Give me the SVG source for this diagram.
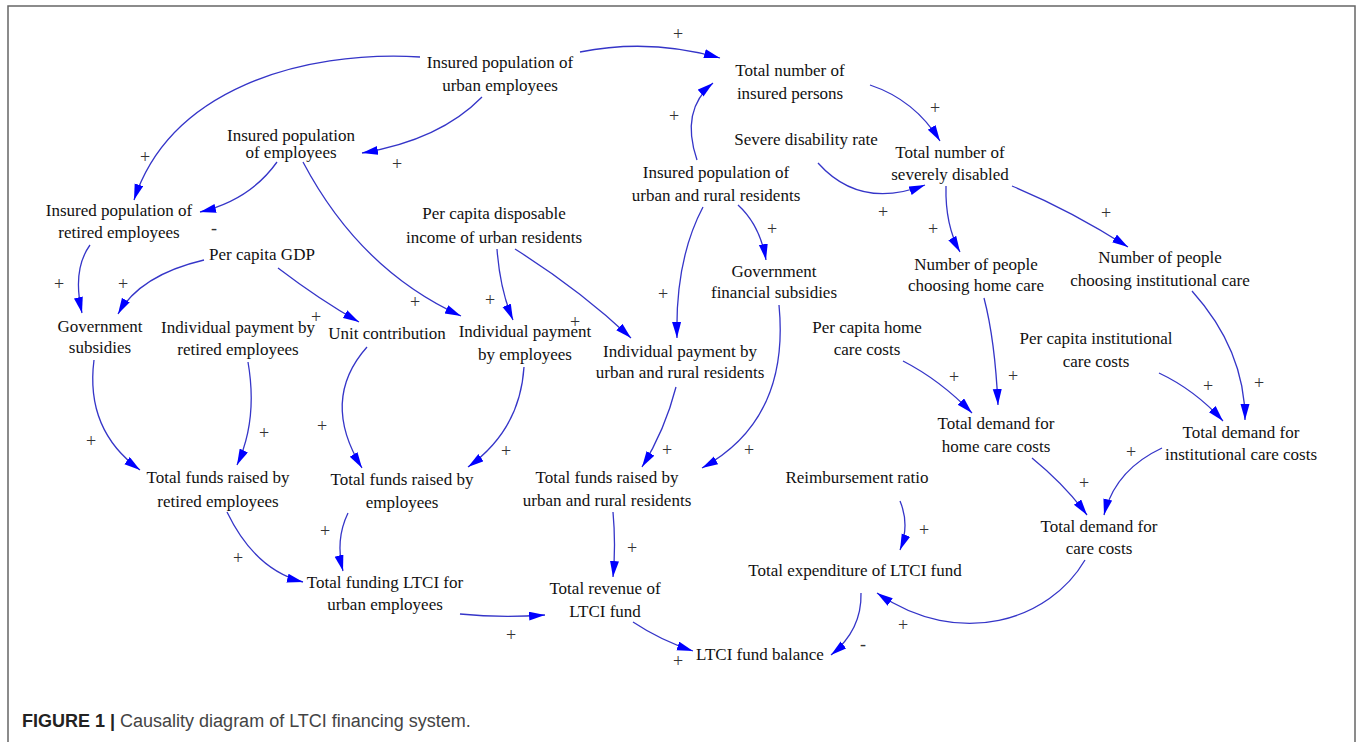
<svg xmlns="http://www.w3.org/2000/svg" width="1360" height="742" viewBox="0 0 1360 742">
<defs>
<marker id="ah" markerUnits="userSpaceOnUse" markerWidth="18" markerHeight="10" refX="16" refY="4.5" orient="auto">
<path d="M0,0 L16,4.5 L0,9 z" fill="#0000ff"/>
</marker>
</defs>
<style>
.n text{font-family:"Liberation Serif","Times New Roman",serif;font-size:17px;fill:#111;text-anchor:middle}
.c path{fill:none;stroke:#3535c8;stroke-width:1.3;marker-end:url(#ah)}
.p{font-family:"Liberation Serif",serif;font-size:18px;fill:#333;text-anchor:middle}
.cap{font-family:"Liberation Sans",Arial,sans-serif;font-size:18px}
</style>
<rect x="0" y="0" width="1360" height="742" fill="#fff"/>
<rect x="8" y="6" width="1347" height="800" fill="none" stroke="#666" stroke-width="1.5"/>

<g class="c" id="connectors">
<path d="M580,52 Q650,38 720,58"/>
<path d="M420,57 C300,50 170,90 134,200"/>
<path d="M482,97 Q440,140 362,153"/>
<path d="M277,162 Q250,200 200,212"/>
<path d="M303,162 Q360,270 461,316"/>
<path d="M697,160 Q680,110 713,83"/>
<path d="M703,207 Q675,260 677,338"/>
<path d="M738,205 Q760,225 766,260"/>
<path d="M870,85 Q915,100 940,141"/>
<path d="M818,163 Q860,210 925,185"/>
<path d="M946,186 Q945,225 960,252"/>
<path d="M1012,186 Q1070,210 1128,247"/>
<path d="M204,260 Q140,275 118,314"/>
<path d="M90,245 Q72,270 82,313"/>
<path d="M278,268 Q320,300 359,322"/>
<path d="M497,249 Q500,290 513,320"/>
<path d="M515,249 Q580,290 631,338"/>
<path d="M94,360 Q85,430 140,470"/>
<path d="M248,362 Q258,420 237,465"/>
<path d="M367,347 Q320,400 362,468"/>
<path d="M524,367 Q520,430 468,467"/>
<path d="M676,387 Q665,430 642,467"/>
<path d="M779,305 Q790,420 702,468"/>
<path d="M984,298 Q995,340 998,405"/>
<path d="M903,361 Q940,380 972,413"/>
<path d="M1192,291 Q1245,350 1245,420"/>
<path d="M1159,373 Q1195,390 1223,421"/>
<path d="M1032,458 Q1065,485 1087,515"/>
<path d="M1162,448 Q1115,470 1104,515"/>
<path d="M900,501 Q910,525 900,550"/>
<path d="M1085,560 C1050,620 960,650 877,593"/>
<path d="M861,593 Q862,630 831,655"/>
<path d="M348,513 Q335,540 343,571"/>
<path d="M227,512 Q255,570 303,582"/>
<path d="M460,614 Q500,618 545,615"/>
<path d="M613,512 Q616,545 613,577"/>
<path d="M633,622 Q660,640 693,651"/>
</g>

<g id="polarity">
<text class="p" x="678" y="40">+</text>
<text class="p" x="145" y="163">+</text>
<text class="p" x="397" y="170">+</text>
<text class="p" x="214" y="234">-</text>
<text class="p" x="415" y="308">+</text>
<text class="p" x="674" y="122">+</text>
<text class="p" x="663" y="300">+</text>
<text class="p" x="772" y="235">+</text>
<text class="p" x="935" y="114">+</text>
<text class="p" x="883" y="218">+</text>
<text class="p" x="933" y="235">+</text>
<text class="p" x="1106" y="219">+</text>
<text class="p" x="123" y="290">+</text>
<text class="p" x="59" y="290">+</text>
<text class="p" x="316" y="323">+</text>
<text class="p" x="490" y="306">+</text>
<text class="p" x="575" y="328">+</text>
<text class="p" x="91" y="447">+</text>
<text class="p" x="264" y="439">+</text>
<text class="p" x="322" y="432">+</text>
<text class="p" x="506" y="457">+</text>
<text class="p" x="667" y="456">+</text>
<text class="p" x="749" y="456">+</text>
<text class="p" x="1013" y="382">+</text>
<text class="p" x="954" y="383">+</text>
<text class="p" x="1259" y="389">+</text>
<text class="p" x="1208" y="392">+</text>
<text class="p" x="1084" y="489">+</text>
<text class="p" x="1131" y="458">+</text>
<text class="p" x="924" y="536">+</text>
<text class="p" x="903" y="631">+</text>
<text class="p" x="863" y="650">-</text>
<text class="p" x="325" y="537">+</text>
<text class="p" x="238" y="564">+</text>
<text class="p" x="511" y="641">+</text>
<text class="p" x="632" y="554">+</text>
<text class="p" x="678" y="667">+</text>
</g>

<g class="n" id="n1"><text x="500" y="68">Insured population of</text><text x="500" y="91">urban employees</text></g>
<g class="n" id="n2"><text x="790" y="76">Total number of</text><text x="790" y="99">insured persons</text></g>
<g class="n" id="n3"><text x="291" y="141">Insured population</text><text x="291" y="158">of employees</text></g>
<g class="n" id="n4"><text x="806" y="145">Severe disability rate</text></g>
<g class="n" id="n5"><text x="950" y="158">Total number of</text><text x="950" y="180">severely disabled</text></g>
<g class="n" id="n6"><text x="716" y="178">Insured population of</text><text x="716" y="201">urban and rural residents</text></g>
<g class="n" id="n7"><text x="119" y="216">Insured population of</text><text x="119" y="238">retired employees</text></g>
<g class="n" id="n8"><text x="494" y="219">Per capita disposable</text><text x="494" y="243">income of urban residents</text></g>
<g class="n" id="n9"><text x="262" y="260">Per capita GDP</text></g>
<g class="n" id="n10"><text x="774" y="277">Government</text><text x="774" y="298">financial subsidies</text></g>
<g class="n" id="n11"><text x="976" y="270">Number of people</text><text x="976" y="291">choosing home care</text></g>
<g class="n" id="n12"><text x="1160" y="263">Number of people</text><text x="1160" y="286">choosing institutional care</text></g>
<g class="n" id="n13"><text x="100" y="332">Government</text><text x="100" y="353">subsidies</text></g>
<g class="n" id="n14"><text x="238" y="333">Individual payment by</text><text x="238" y="355">retired employees</text></g>
<g class="n" id="n15"><text x="387" y="339">Unit contribution</text></g>
<g class="n" id="n16"><text x="525" y="337">Individual payment</text><text x="525" y="360">by employees</text></g>
<g class="n" id="n17"><text x="680" y="357">Individual payment by</text><text x="680" y="378">urban and rural residents</text></g>
<g class="n" id="n18"><text x="867" y="333">Per capita home</text><text x="867" y="355">care costs</text></g>
<g class="n" id="n19"><text x="1096" y="344">Per capita institutional</text><text x="1096" y="367">care costs</text></g>
<g class="n" id="n20"><text x="996" y="429">Total demand for</text><text x="996" y="452">home care costs</text></g>
<g class="n" id="n21"><text x="1241" y="438">Total demand for</text><text x="1241" y="460">institutional care costs</text></g>
<g class="n" id="n22"><text x="218" y="483">Total funds raised by</text><text x="218" y="507">retired employees</text></g>
<g class="n" id="n23"><text x="402" y="485">Total funds raised by</text><text x="402" y="508">employees</text></g>
<g class="n" id="n24"><text x="607" y="483">Total funds raised by</text><text x="607" y="506">urban and rural residents</text></g>
<g class="n" id="n25"><text x="857" y="483">Reimbursement ratio</text></g>
<g class="n" id="n26"><text x="1099" y="532">Total demand for</text><text x="1099" y="554">care costs</text></g>
<g class="n" id="n27"><text x="385" y="588">Total funding LTCI for</text><text x="385" y="610">urban employees</text></g>
<g class="n" id="n28"><text x="855" y="576">Total expenditure of LTCI fund</text></g>
<g class="n" id="n29"><text x="605" y="594">Total revenue of</text><text x="605" y="617">LTCI fund</text></g>
<g class="n" id="n30"><text x="760" y="660">LTCI fund balance</text></g>

<text class="cap" x="22" y="727"><tspan font-weight="bold" fill="#222">FIGURE 1 | </tspan><tspan fill="#444">Causality diagram of LTCI financing system.</tspan></text>
</svg>
